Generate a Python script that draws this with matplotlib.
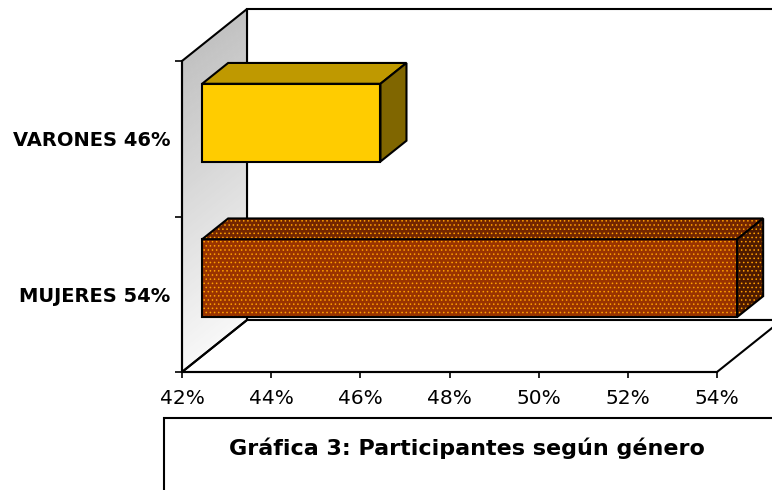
import matplotlib.pyplot as plt
import numpy as np
from matplotlib.patches import Polygon, Rectangle

# datos
categorias = ['MUJERES 54%', 'VARONES 46%']
porcentajes = [54, 46]
eje_x = [42, 44, 46, 48, 50, 52, 54]
titulo = 'Gráfica 3: Participantes según género'

# colores de cada barra: frente, arriba, lado, puntos
frente = ['#993300', '#FFCC00']
arriba = ['#732600', '#BF9900']
lado = ['#4D1A00', '#806600']
puntos = ['#FFA000', None]

W, H = 772, 490
plt.rcParams['hatch.linewidth'] = 0.6
fig = plt.figure(figsize=(W / 100, H / 100), dpi=100)
ax = fig.add_axes([182 / W, (H - 372) / H, 535 / W, 311 / H])
x0, x1 = eje_x[0], eje_x[-1]
n = len(categorias)

# perspectiva (profundidad del fondo en unidades de datos)
px = (x1 - x0) / 535
py = n / 311
dx, dy = 65 * px, 52 * py
f, b = 0.31, 0.71   # posicion de las barras en la profundidad
alto = 0.5


def cara(pts, color, dots=None, z=3):
    if dots:
        ax.add_patch(Polygon(pts, closed=True, facecolor=color, edgecolor=dots,
                             lw=0, hatch='....', clip_on=False, zorder=z))
        ax.add_patch(Polygon(pts, closed=True, fill=False, edgecolor='black',
                             lw=1.5, clip_on=False, zorder=z))
    else:
        ax.add_patch(Polygon(pts, closed=True, facecolor=color, edgecolor='black',
                             lw=1.5, clip_on=False, zorder=z))


# pared del fondo
cara([(x0 + dx, dy), (x0 + dx, n + dy), (x1 + dx, n + dy), (x1 + dx, dy)], 'white', z=0.5)

# pared lateral con degradado (franjas)
N = 80
ys = np.linspace(0, n, N + 1)
tonos = np.linspace(0.97, 0.76, N)
for k in range(N):
    c = (tonos[k],) * 3
    ax.add_patch(Polygon([(x0, ys[k]), (x0, ys[k + 1]), (x0 + dx, ys[k + 1] + dy),
                          (x0 + dx, ys[k] + dy)], closed=True, facecolor=c,
                         edgecolor=c, lw=0.5, clip_on=False, zorder=0.6))
ax.add_patch(Polygon([(x0, 0), (x0, n), (x0 + dx, n + dy), (x0 + dx, dy)], closed=True,
                     fill=False, edgecolor='black', lw=1.5, clip_on=False, zorder=0.8))

# piso
cara([(x0, 0), (x1, 0), (x1 + dx, dy), (x0 + dx, dy)], 'white', z=0.7)

# barras 3D
for i, v in enumerate(porcentajes):
    yc = i + 0.5
    y_lo, y_hi = yc - alto / 2, yc + alto / 2
    ax.barh(yc + f * dy, v - x0, left=x0 + f * dx, height=alto, color=frente[i],
            edgecolor=puntos[i] if puntos[i] else 'black', lw=0 if puntos[i] else 1.5,
            hatch='....' if puntos[i] else None, zorder=3, clip_on=False)
    if puntos[i]:
        ax.barh(yc + f * dy, v - x0, left=x0 + f * dx, height=alto, fill=False,
                edgecolor='black', lw=1.5, zorder=3, clip_on=False)
    cara([(x0 + f * dx, y_hi + f * dy), (v + f * dx, y_hi + f * dy),
          (v + b * dx, y_hi + b * dy), (x0 + b * dx, y_hi + b * dy)], arriba[i], puntos[i])
    cara([(v + f * dx, y_lo + f * dy), (v + f * dx, y_hi + f * dy),
          (v + b * dx, y_hi + b * dy), (v + b * dx, y_lo + b * dy)], lado[i], puntos[i])

ax.set_xlim(x0, x1)
ax.set_ylim(0, n)
ax.set_facecolor('none')
for s in ['top', 'right']:
    ax.spines[s].set_visible(False)
for s in ['left', 'bottom']:
    ax.spines[s].set_linewidth(1.5)
    ax.spines[s].set_zorder(1)

ax.set_xticks(eje_x)
ax.set_xticklabels([f'{v}%' for v in eje_x])
ax.tick_params(axis='x', length=4.5, width=1.2, pad=7.5, labelsize=14.5)
ax.set_yticks(range(n + 1))
ax.set_yticklabels([])
ax.set_yticks([i + 0.5 for i in range(n)], minor=True)
ax.set_yticklabels(categorias, minor=True, fontsize=14, fontweight='bold')
ax.tick_params(axis='y', which='major', length=5, width=1.2)
ax.tick_params(axis='y', which='minor', length=0, pad=8.6)

# cuadro del titulo
fig.add_artist(Rectangle((164 / W, -0.1), 1, (H - 418) / H + 0.1, transform=fig.transFigure,
                         fill=False, edgecolor='black', lw=1.5))
fig.text(467 / W, (H - 455) / H, titulo, ha='center', va='baseline', fontsize=16,
         fontweight='bold')

fig.savefig('out.png', dpi=100)
